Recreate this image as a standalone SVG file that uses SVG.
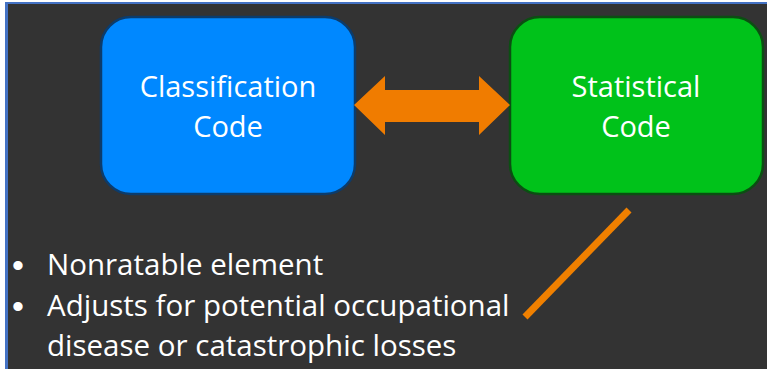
<svg xmlns="http://www.w3.org/2000/svg" width="767" height="369" viewBox="0 0 767 369">
  <style>
    .label { font-family: "Open Sans", "Liberation Sans", sans-serif; font-size: 29px; fill: #ffffff; }
    .note { font-size: 29.5px; }
    .bullet { font-family: "Liberation Sans", sans-serif; font-size: 34px; fill: #ffffff; }
    .mid { text-anchor: middle; }
    .conn { fill: #f07c00; }
  </style>
  <!-- page background and frame -->
  <rect x="0" y="0" width="767" height="369" fill="#ffffff"/>
  <rect x="5" y="2" width="762" height="367" fill="#4472c4"/>
  <rect x="8" y="4" width="759" height="365" fill="#333333"/>

  <g id="classification-code">
    <rect x="101" y="17" width="254" height="177" rx="30" ry="30" fill="#0088ff" stroke="#0c3c6c" stroke-width="2.5"/>
    <text class="label mid" x="228" y="97">Classification</text>
    <text class="label mid" x="228" y="137">Code</text>
  </g>

  <g id="statistical-code">
    <rect x="510" y="17" width="253" height="177" rx="30" ry="30" fill="#00c21a" stroke="#0b4f12" stroke-width="2.5"/>
    <text class="label mid" x="636" y="97">Statistical</text>
    <text class="label mid" x="636" y="137">Code</text>
  </g>

  <g id="connectors">
    <!-- two-way arrow between the codes -->
    <polygon class="conn" points="354,105 385,76 385,90 479,90 479,76 510,105 479,135 479,122 385,122 385,135"/>
    <!-- callout line from the statistical code to its notes -->
    <line x1="629" y1="210" x2="525" y2="317" stroke="#f08000" stroke-width="7"/>
  </g>

  <g id="notes">
    <text class="bullet" x="12" y="277">•</text>
    <text class="label note" x="47" y="275">Nonratable element</text>
    <text class="bullet" x="12" y="318">•</text>
    <text class="label note" x="47" y="316">Adjusts for potential occupational</text>
    <text class="label note" x="47" y="356">disease or catastrophic losses</text>
  </g>
</svg>
